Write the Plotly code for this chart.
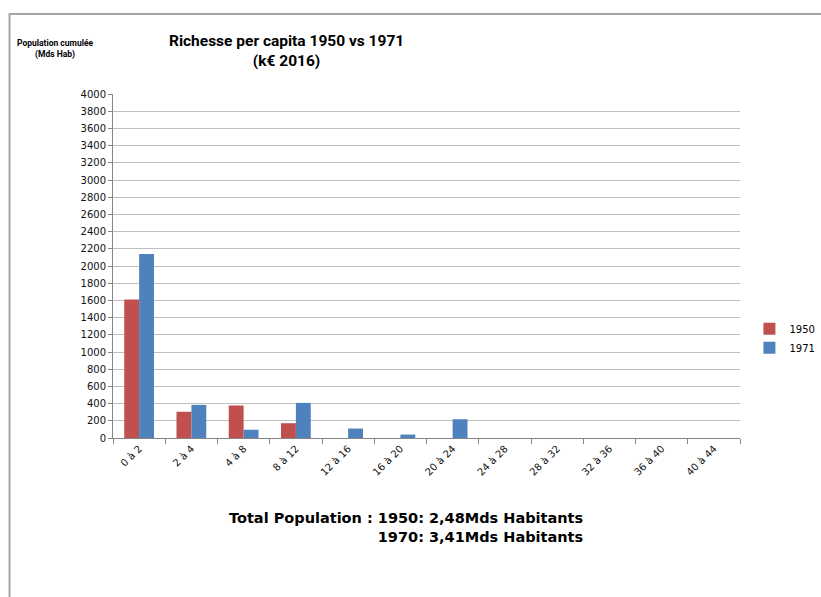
import plotly.graph_objects as go

# Wealth-per-capita brackets (k€ 2016) and cumulative population per bracket
categories = ["0 à 2", "2 à 4", "4 à 8", "8 à 12", "12 à 16", "16 à 20",
              "20 à 24", "24 à 28", "28 à 32", "32 à 36", "36 à 40", "40 à 44"]
pop_1950 = [1610, 305, 378, 172, 0, 0, 0, 0, 0, 0, 0, 0]
pop_1971 = [2140, 385, 96, 408, 110, 40, 218, 0, 0, 0, 0, 0]

RED = "#C0504D"
BLUE = "#4F81BD"
GRID = "#BFBFBF"
AXIS = "#868686"

fig = go.Figure()
fig.add_trace(go.Bar(name="1950", x=categories, y=pop_1950, marker_color=RED,
                     marker_line_width=0))
fig.add_trace(go.Bar(name="1971", x=categories, y=pop_1971, marker_color=BLUE,
                     marker_line_width=0))

fig.update_layout(
    width=821, height=597,
    margin=dict(l=113, r=81, t=94, b=159, autoexpand=False),
    paper_bgcolor="white", plot_bgcolor="white",
    barmode="group", bargap=0.43, bargroupgap=0,
    font=dict(family="DejaVu Sans", color="#000000"),
    showlegend=True,
    legend=dict(x=1.015, y=0.29, xanchor="left", yanchor="middle",
                font=dict(size=10, family="DejaVu Sans"),
                itemwidth=30, bgcolor="rgba(0,0,0,0)"),
    xaxis=dict(
        type="category", showline=True, linecolor=AXIS, linewidth=1,
        ticks="outside", tickson="boundaries", ticklen=5, tickcolor=AXIS,
        tickangle=-45, tickfont=dict(size=10, family="DejaVu Sans", color="#111"),
        showgrid=False,
    ),
    yaxis=dict(
        range=[0, 4000], dtick=200, showline=True, linecolor=AXIS, linewidth=1,
        ticks="outside", ticklen=4, tickcolor=AXIS,
        tickfont=dict(size=10, family="DejaVu Sans", color="#111"),
        showgrid=True, gridcolor=GRID, gridwidth=1, zeroline=False,
    ),
)

# Title, axis caption and totals note
fig.add_annotation(
    text="<b>Richesse per capita 1950 vs 1971<br>(k€ 2016)</b>",
    xref="paper", yref="paper", x=0.276, y=1.125, xanchor="center", yanchor="middle",
    showarrow=False, align="center",
    font=dict(size=15.5, family="Roboto", color="#000"),
)
fig.add_annotation(
    text="<b>Population cumulée<br>(Mds Hab)</b>",
    xref="paper", yref="paper", x=-0.0925, y=1.131, xanchor="center", yanchor="middle",
    showarrow=False, align="center",
    font=dict(size=8.5, family="Roboto", color="#000"),
)
fig.add_annotation(
    text="<b>Total Population : 1950: 2,48Mds Habitants<br>1970: 3,41Mds Habitants</b>",
    xref="paper", yref="paper", x=0.753, y=-0.261, xanchor="right", yanchor="middle",
    showarrow=False, align="right",
    font=dict(size=14.5, family="DejaVu Sans", color="#000"),
)

# Chart-area border (left and top edges)
fig.add_shape(type="path", xref="paper", yref="paper",
              path="M -0.165 -0.47 L -0.165 1.2327 L 1.2 1.2327",
              line=dict(color="#A6A6A6", width=2))

fig.write_html("out.html")
